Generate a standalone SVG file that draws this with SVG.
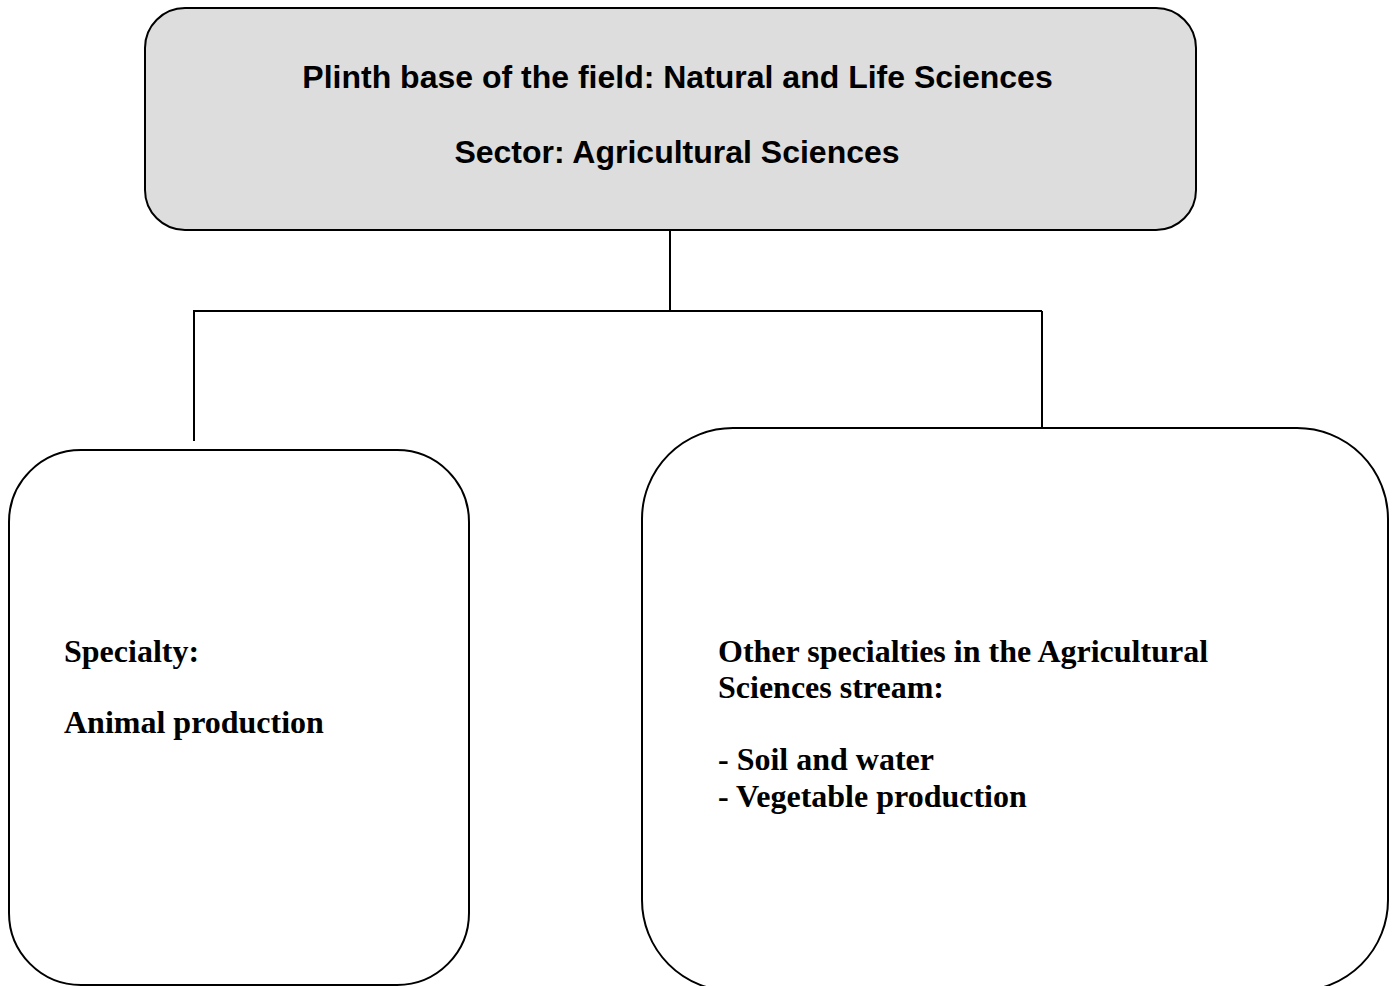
<svg xmlns="http://www.w3.org/2000/svg" width="1397" height="986" viewBox="0 0 1397 986">
<style>
.box{stroke:#000;stroke-width:2;}
.conn{stroke:#000;stroke-width:2;fill:none;}
.sans{font-family:"Liberation Sans",Arial,sans-serif;font-weight:bold;font-size:32px;fill:#000;}
.serif{font-family:"Liberation Serif","Times New Roman",serif;font-weight:bold;font-size:32px;fill:#000;}
</style>
<rect width="1397" height="986" fill="#fff"/>
<g id="connectors">
<path class="conn" d="M670 230 V311 M193 311 H1042 M194 311 V441 M1042 311 V428"/>
</g>
<g id="top">
<rect class="box" x="145" y="8" width="1051" height="222" rx="40" ry="40" fill="#dddddd"/>
<text class="sans" x="677.5" y="88" text-anchor="middle">Plinth base of the field: Natural and Life Sciences</text>
<text class="sans" x="677" y="163" text-anchor="middle">Sector: Agricultural Sciences</text>
</g>
<g id="left">
<rect class="box" x="9" y="450" width="460" height="535" rx="72" ry="72" fill="#fff"/>
<text class="serif" x="64" y="662">Specialty:</text>
<text class="serif" x="64" y="733">Animal production</text>
</g>
<g id="right">
<rect class="box" x="642" y="428" width="746" height="563" rx="91" ry="91" fill="#fff"/>
<text class="serif" x="718" y="662">Other specialties in the Agricultural</text>
<text class="serif" x="718" y="698">Sciences stream:</text>
<text class="serif" x="718" y="770">- Soil and water</text>
<text class="serif" x="718" y="807">- Vegetable production</text>
</g>
</svg>
